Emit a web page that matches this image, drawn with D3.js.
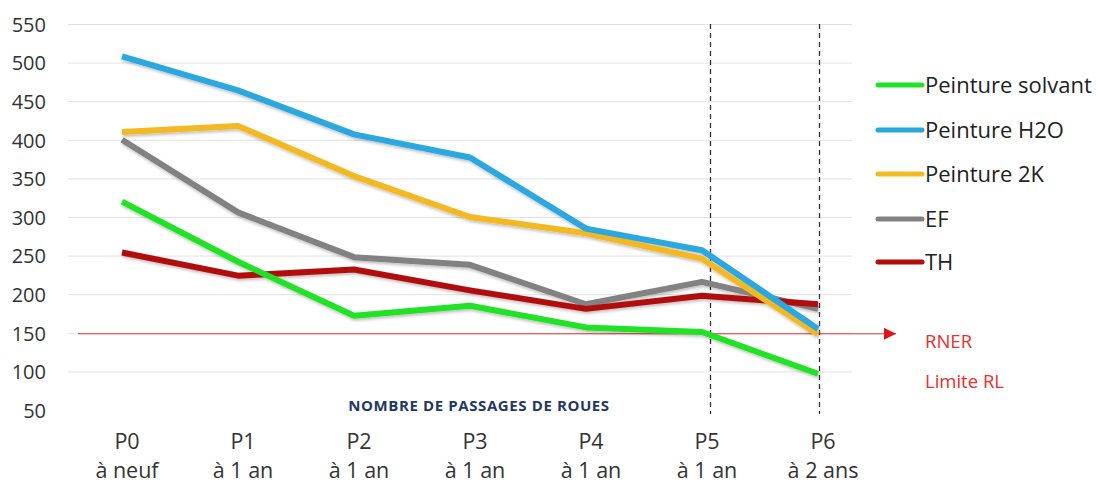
<!DOCTYPE html>
<html><head><meta charset="utf-8">
<script src="https://cdn.jsdelivr.net/npm/d3@7"></script>
<style>body{margin:0;background:#fff}svg{display:block}</style>
</head><body><svg id="c" width="1102" height="486" font-family="'Open Sans',sans-serif"></svg>
<script>
const categories = ["P0","P1","P2","P3","P4","P5","P6"];
const subLabels = ["à neuf","à 1 an","à 1 an","à 1 an","à 1 an","à 1 an","à 2 ans"];
const yTicks = [50,100,150,200,250,300,350,400,450,500,550];
const seriesNames = ["Peinture solvant","Peinture H2O","Peinture 2K","EF","TH"];
const solvant = [320,242,172,185,157,151,97];
const h2o = [508,464,407,377,285,257,155];
const k2 = [410,418,353,300,279,246,148];
const ef = [400,306,248,238,187,216,181];
const th = [254,224,232,205,181,198,187];
const colors = ["#22e228","#29a8df","#f4b923","#828282","#b20c0c"];
const rner = 150;
const dashedAt = ["P5","P6"];

const svg = d3.select("#c");
const x = d3.scalePoint().domain(categories).range([122,818]);
const y = d3.scaleLinear().domain([50,550]).range([410,24]);

const defs = svg.append("defs");
const f = defs.append("filter").attr("id","sh").attr("x","-5%").attr("y","-20%").attr("width","110%").attr("height","140%");
f.append("feDropShadow").attr("dx",1).attr("dy",2).attr("stdDeviation",1.5).attr("flood-color","#000").attr("flood-opacity",0.25);
defs.append("marker").attr("id","arr").attr("viewBox","0 0 10 10").attr("refX",10).attr("refY",5)
  .attr("markerWidth",12).attr("markerHeight",12).attr("markerUnits","userSpaceOnUse").attr("orient","auto")
  .append("path").attr("d","M0,0L10,5L0,10Z").attr("fill","#e0141a");

// gridlines
svg.append("g").selectAll("line").data(yTicks.filter(d=>d>50)).join("line")
  .attr("x1",68).attr("x2",852).attr("y1",d=>y(d)+0.5).attr("y2",d=>y(d)+0.5)
  .attr("stroke","#e2e2e2").attr("stroke-width",1);

// y axis labels
const yAxis = d3.axisLeft(y).tickValues(yTicks).tickSize(0).tickPadding(0);
const ga = svg.append("g").attr("transform","translate(46,0)").call(yAxis);
ga.select(".domain").remove();
ga.selectAll("text").attr("font-size",20).attr("fill","#333").attr("font-family","'Open Sans',sans-serif").attr("dy","0.36em");

// dashed verticals
svg.append("g").selectAll("line").data(dashedAt).join("line")
  .attr("x1",d=>Math.round(x(d)+ (d==="P5"?8:1))+0.5).attr("x2",d=>Math.round(x(d)+(d==="P5"?8:1))+0.5)
  .attr("y1",24).attr("y2",414).attr("stroke","#333").attr("stroke-width",1.3).attr("stroke-dasharray","5,4");

// RNER line
svg.append("line").attr("x1",78).attr("x2",896).attr("y1",y(rner)+1).attr("y2",y(rner)+1)
  .attr("stroke","#d9322f").attr("stroke-width",1).attr("marker-end","url(#arr)");

// series lines
const allSeries = [solvant,h2o,k2,ef,th];
const line = d3.line().x((d,i)=>x(categories[i])).y(d=>y(d));
const drawOrder = [3,4,0,2,1];
svg.append("g").attr("filter","url(#sh)").selectAll("path").data(drawOrder).join("path")
  .attr("d",i=>line(allSeries[i])).attr("fill","none").attr("stroke",i=>colors[i])
  .attr("stroke-width",6).attr("stroke-linejoin","round").attr("stroke-linecap","butt");

// x labels
const xl = svg.append("g").selectAll("g").data(categories).join("g")
  .attr("transform",d=>`translate(${x(d)+5},0)`);
xl.append("text").attr("y",449).attr("text-anchor","middle").attr("font-size",21.5).attr("fill","#333").text(d=>d);
xl.append("text").attr("y",478).attr("text-anchor","middle").attr("font-size",21.5).attr("fill","#333").text((d,i)=>subLabels[i]);

// x title
svg.append("text").attr("x",479).attr("y",411).attr("text-anchor","middle").attr("font-size",15)
  .attr("font-weight","bold").attr("fill","#1f3864").attr("letter-spacing",0.6).text("NOMBRE DE PASSAGES DE ROUES");

// legend
const legY = [85,130,174,219,262];
const lg = svg.append("g").selectAll("g").data(seriesNames).join("g")
  .attr("transform",(d,i)=>`translate(876,${legY[i]})`);
lg.append("line").attr("x1",2).attr("x2",46).attr("stroke",(d,i)=>colors[i]).attr("stroke-width",5).attr("stroke-linecap","round");
lg.append("text").attr("x",49).attr("dy","0.36em").attr("font-size",22).attr("fill","#222").text(d=>d);

// RNER labels
svg.append("text").attr("x",925).attr("y",348).attr("font-size",18.5).attr("fill","#e8302e").text("RNER");
svg.append("text").attr("x",925).attr("y",388).attr("font-size",18.5).attr("fill","#e8302e").text("Limite RL");
</script></body></html>
